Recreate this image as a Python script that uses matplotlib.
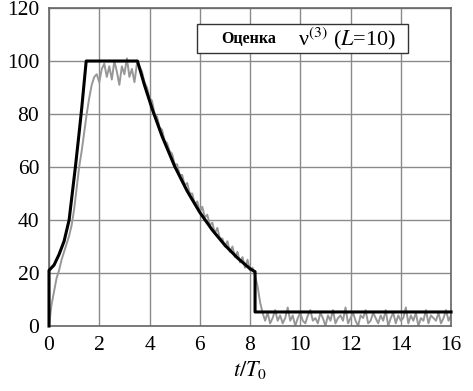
import matplotlib
matplotlib.use("Agg")
import matplotlib.pyplot as plt
import numpy as np
from matplotlib.patches import Rectangle

plt.rcParams['font.family'] = ['Liberation Serif', 'DejaVu Serif']
plt.rcParams['mathtext.fontset'] = 'stix'

# black curve (model), t/T0 vs value
black_t = [0, 0, 0.2, 0.4, 0.6, 0.8, 0.95, 1.05, 1.2, 1.3, 1.48, 3.52,
           3.8, 4.1, 4.5, 5.0, 5.5, 6.0, 6.5, 7.0, 7.5, 8.0, 8.2, 8.2, 16]
black_v = [0, 21, 23, 27, 32, 40, 52, 60, 73, 82, 100, 100,
           90.9, 82.1, 71.6, 60.3, 50.9, 42.9, 36.2, 30.5, 25.7, 21.6, 20.5, 5.3, 5.3]

# gray noisy estimate, sampled every 0.1 from 0 to 16
gray_rise = [0, 8, 13, 18, 21, 25, 28, 31, 34, 38, 44, 52, 60, 66, 73, 80, 86, 91, 94]
gray_top = [95, 92, 97, 99, 94, 98, 93, 100, 96, 91, 98, 95, 101, 94, 97, 92, 99]
gray_fall = [98, 96, 92, 90, 86, 85, 80, 79, 75, 74, 70, 69, 66, 65, 61, 61, 57, 57,
             53, 54, 50, 50, 46, 47, 43, 45, 41, 42, 38, 39, 35, 37, 33, 33, 30, 32,
             28, 30, 26, 28, 24, 26, 22, 25, 21, 22, 19]
gray_drop = [15, 9, 5]
gray_tail = [2, 5, 1, 3, 6, 2, 4, 1, 3, 7, 2, 4, 0, 3, 5, 2, 1, 4, 6, 2,
             3, 1, 5, 3, 0, 4, 2, 6, 1, 3, 4, 2, 7, 1, 3, 5, 2, 0, 4, 3,
             6, 1, 2, 5, 3, 1, 4, 2, 6, 0, 3, 5, 1, 4, 2, 3, 7, 1, 4, 2,
             5, 0, 3, 2, 6, 1, 4, 3, 2, 5, 1, 3, 6, 2, 4]
gray_v = gray_rise + gray_top + gray_fall + gray_drop + gray_tail
gray_t = np.linspace(0, 16, len(gray_v))

xticks = [0, 2, 4, 6, 8, 10, 12, 14, 16]
yticks = [0, 20, 40, 60, 80, 100, 120]

fig = plt.figure(figsize=(4.73, 3.91), dpi=100)
ax = fig.add_axes([0.1036, 0.1662, 0.85, 0.8133])

ax.plot(gray_t, gray_v, color='#979797', lw=1.4, zorder=2)
ax.plot(black_t, black_v, color='black', lw=2.2, zorder=3, clip_on=False)

ax.set_xlim(0, 16)
ax.set_ylim(0, 120)
ax.set_xticks(xticks)
ax.set_yticks(yticks)
ax.grid(True, color='#8a8a8a', lw=1.0)
ax.set_axisbelow(True)
ax.tick_params(length=0, labelsize=15.5, pad=7)
for s in ax.spines.values():
    s.set_color('#666666')
    s.set_linewidth(1.2)

ax.set_xlabel(r'$t/T_0$', fontsize=16, labelpad=3)

# legend box
ax.add_patch(Rectangle((0.368, 0.858), 0.525, 0.091, transform=ax.transAxes,
                       facecolor='white', edgecolor='#333333', lw=1.0, zorder=5))
ax.text(0.428, 0.903, 'Оценка', transform=ax.transAxes, fontsize=11.5,
        fontweight='bold', va='center', zorder=6)
ax.text(0.62, 0.903, 'ν$^{(3)}$ ($L$=10)', transform=ax.transAxes,
        fontsize=16, va='center', zorder=6)

fig.savefig('out.png', dpi=100)
